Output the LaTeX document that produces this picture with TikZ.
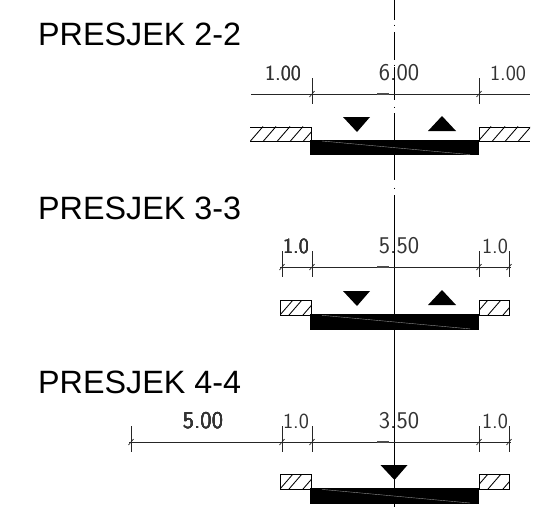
\documentclass[tikz,border=0pt]{standalone}
\usepackage{fontspec}
\setmainfont{Liberation Sans}
\tikzset{
    title/.style={anchor=base west, inner sep=0pt, font=\fontsize{32.3}{36}\selectfont},
    dimtext/.style={anchor=base, inner sep=0pt, text=black!80, font=\sffamily\fontsize{24}{26}\selectfont},
    dimshort/.style={dimtext, font=\sffamily\fontsize{21.5}{24}\selectfont},
    dimline/.style={black!85, line width=0.7pt},
    centre/.style={black, line width=0.9pt},
    road/.style={fill=black, draw=none},
    hatch/.style={line width=0.85pt}
}
\newcommand{\dimtick}[2]{
    \draw[dimline] (#1, #2-16) -- (#1, #2+10);
    \draw[dimline] (#1-2.5, #2+3) -- (#1+2.5, #2-3);
}
\newcommand{\roadway}[1]{
    \fill[road] (310.3, #1) rectangle (479, #1+15.3);
    \draw[black!45, line width=0.4pt] (322, #1+1) -- (470, #1+14.6);
}
\newcommand{\arrdown}[3]{
    \fill[black] (#1-14, #2) -- (#1+13, #2) -- (#1, #3) -- cycle;
}
\newcommand{\arrup}[3]{
    \fill[black] (#1-14, #3) -- (#1+14, #3) -- (#1, #2) -- cycle;
}
% hatching of a kerb: #1 left x, #2 right x, #3 top y, #4 hatch starts
\newcommand{\kerb}[4]{
    \begin{scope}
        \clip (#1, #3) rectangle (#2, #3+15);
        \foreach \x in {#4} \draw[hatch] (\x, #3+15) -- (\x+13, #3);
    \end{scope}
}
\begin{document}
\begin{tikzpicture}[x=1pt, y=-1pt]
    \useasboundingbox (0, 0) rectangle (534, 507);
    % centre line
    \foreach \a/\b in {0/20, 24.5/25.5, 32/60, 64.5/65.5, 67/100, 106.5/107.5, 113/180, 187.5/188.5, 195/507}
        \draw[centre] (394, \a) -- (394, \b);
    % titles
    \node[title] (title22) at (38, 45) {PRESJEK 2-2};
    \node[title] (title33) at (38, 219) {PRESJEK 3-3};
    \node[title] (title44) at (38, 393) {PRESJEK 4-4};
    % section 2-2
    \draw[dimline] (251, 94) -- (530, 94);
    \draw[black!70, line width=1.2pt] (377, 94) -- (389, 94);
    \foreach \x in {312, 479} \dimtick{\x}{94}
    \node[dimshort] (a1) at (283, 80) {1.00};
    \node[dimtext] (a2) at (399, 80) {6.00};
    \node[dimshort] (a3) at (508, 80) {1.00};
    \draw[hatch] (250, 127) -- (311, 127) -- (311, 141) (250, 141) -- (311, 141);
    \draw[hatch] (479, 141) -- (479, 127) -- (530, 127) (479, 141) -- (530, 141);
    \kerb{250}{311}{126.5}{250, 263, 277, 290, 303}
    \kerb{479}{530}{126.5}{478, 492, 505, 518}
    \roadway{140}
    \arrdown{357}{117}{132}
    \arrup{442}{116}{131}
    % section 3-3
    \draw[dimline] (280, 267) -- (511, 267);
    \draw[black!70, line width=1.2pt] (377, 267) -- (389, 267);
    \foreach \x in {282, 312, 479, 509} \dimtick{\x}{267}
    \node[dimshort] (b1) at (296, 253) {1.0};
    \node[dimtext] (b2) at (399, 253) {5.50};
    \node[dimshort] (b3) at (495, 253) {1.0};
    \draw[hatch] (280, 300) rectangle (311, 315);
    \draw[hatch] (479, 300) rectangle (509, 315);
    \kerb{280}{311}{300}{280, 289, 303}
    \kerb{479}{509}{300}{475, 488, 503}
    \roadway{314.3}
    \arrdown{357}{291}{306}
    \arrup{442}{290}{305}
    % section 4-4
    \draw[dimline] (129, 442) -- (511, 442);
    \draw[black!70, line width=1.2pt] (377, 442) -- (389, 442);
    \foreach \x in {131, 282, 312, 479, 509} \dimtick{\x}{442}
    \node[dimtext] (c1) at (203, 428) {5.00};
    \node[dimshort] (c2) at (296, 428) {1.0};
    \node[dimtext] (c3) at (399, 428) {3.50};
    \node[dimshort] (c4) at (495, 428) {1.0};
    \draw[hatch] (280, 474) rectangle (311, 489);
    \draw[hatch] (479, 474) rectangle (509, 489);
    \kerb{280}{311}{474}{280, 289, 303}
    \kerb{479}{509}{474}{475, 488, 503}
    \roadway{488.4}
    \arrdown{394.5}{465}{480}
\end{tikzpicture}
\end{document}
